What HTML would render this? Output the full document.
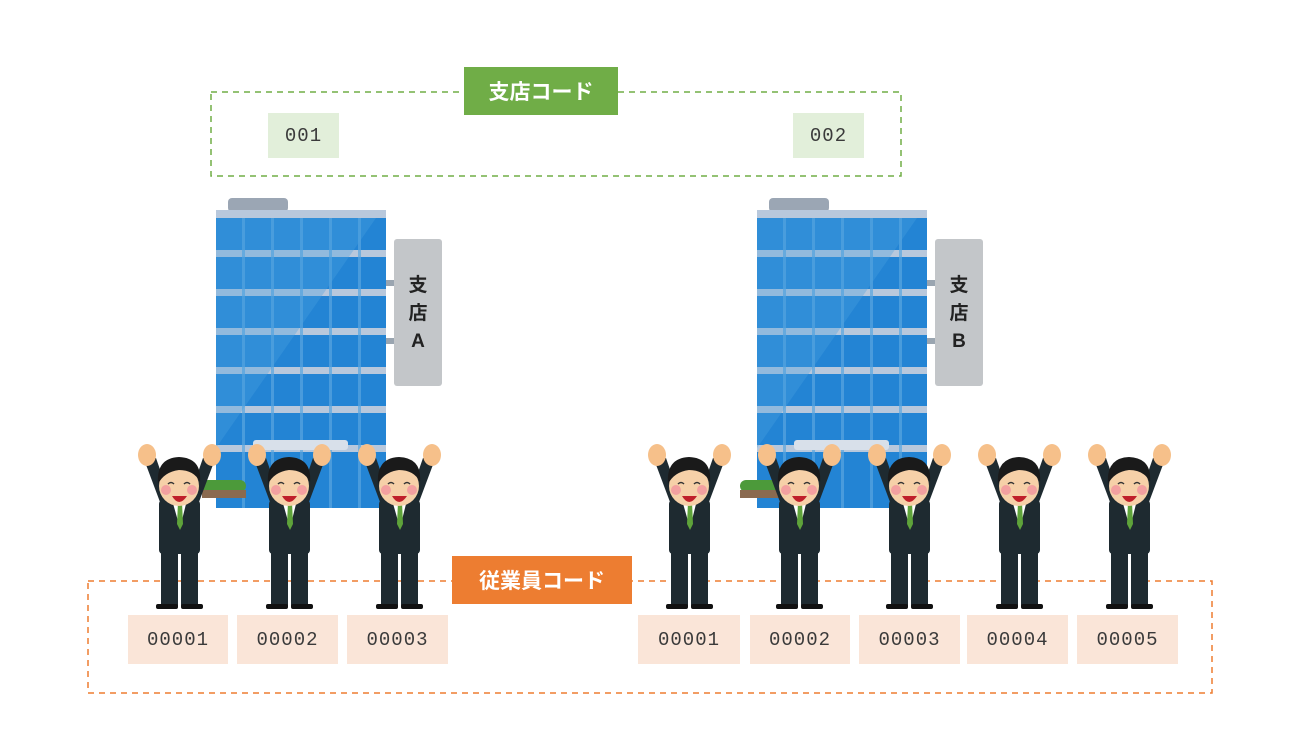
<!DOCTYPE html>
<html><head><meta charset="utf-8"><style>
body{margin:0;width:1300px;height:756px;background:#fff;position:relative;overflow:hidden;font-family:"Liberation Sans","Noto Sans CJK JP",sans-serif}
.a{position:absolute}
.code{position:absolute;font-family:"Liberation Mono",monospace;font-size:19px;color:#3a3a3a;display:flex;align-items:center;justify-content:center;letter-spacing:1px}
.e{background:#fae5d8;top:615px;height:49px}
.g{background:#e2efda;top:113px;height:45px;width:71px}
.lab{position:absolute;color:#fff;font-weight:bold;font-size:21px;display:flex;align-items:center;justify-content:center}
</style></head><body>
<svg class="a" style="left:0;top:0" width="1300" height="756">
<defs>
<symbol id="bld" viewBox="0 0 240 310">
<rect x="12" y="0" width="60" height="14" rx="4" fill="#9ba6b4"/>
<rect x="0" y="12" width="170" height="298" fill="#2384d4"/>
<g fill="#b8c8dc">
<rect x="0" y="12" width="170" height="8"/><rect x="0" y="52" width="170" height="7"/><rect x="0" y="91" width="170" height="7"/><rect x="0" y="130" width="170" height="7"/><rect x="0" y="169" width="170" height="7"/><rect x="0" y="208" width="170" height="7"/><rect x="0" y="247" width="170" height="7"/>
</g>
<g fill="#5aa6e0" opacity="0.7">
<rect x="26" y="20" width="3" height="290"/><rect x="55" y="20" width="3" height="290"/><rect x="84" y="20" width="3" height="290"/><rect x="113" y="20" width="3" height="290"/><rect x="142" y="20" width="3" height="290"/>
</g>
<polygon points="0,20 160,20 0,250" fill="#4aa0e0" opacity="0.35"/>
<rect x="37" y="242" width="95" height="10" rx="3" fill="#d8e0ea"/>
<rect x="170" y="82" width="10" height="6" fill="#9aa5b0"/><rect x="170" y="140" width="10" height="6" fill="#9aa5b0"/>
<rect x="178" y="41" width="48" height="147" rx="3" fill="#c3c6c9"/>
</symbol>
<symbol id="p" viewBox="0 0 100 175">
<path d="M15 22 L33 70 L44 70 L26 18 Z" fill="#1e2a30"/>
<path d="M84 22 L66 70 L55 70 L73 18 Z" fill="#1e2a30"/>
<ellipse cx="17" cy="15" rx="9" ry="11" fill="#f6c08a"/>
<ellipse cx="82" cy="15" rx="9" ry="11" fill="#f6c08a"/>
<rect x="29" y="60" width="41" height="54" rx="4" fill="#1e2a30"/>
<polygon points="42,60 57,60 50,88" fill="#fff"/>
<polygon points="48,62 52,62 53,84 50,90 47,84" fill="#5ea33a"/>
<rect x="31" y="112" width="17" height="54" fill="#1e2a30"/>
<rect x="51" y="112" width="17" height="54" fill="#1e2a30"/>
<rect x="26" y="164" width="22" height="5" rx="2" fill="#111"/>
<rect x="51" y="164" width="22" height="5" rx="2" fill="#111"/>
<ellipse cx="49" cy="46" rx="20" ry="20" fill="#f6d0a8"/>
<path d="M28 44 Q26 18 49 17 Q72 18 70 42 Q64 30 49 30 Q34 32 28 44Z" fill="#1a1a1a"/>
<circle cx="36" cy="50" r="5" fill="#f3a0a0"/><circle cx="62" cy="50" r="5" fill="#f3a0a0"/>
<path d="M42 56 Q49 68 57 56Z" fill="#c0202a"/>
<path d="M38 44 q3 -3 6 0 M54 44 q3 -3 6 0" stroke="#333" stroke-width="1.5" fill="none"/>
</symbol>
</defs>
<rect x="211" y="92" width="690" height="84" fill="none" stroke="#70ad47" stroke-width="1.5" stroke-dasharray="6,5"/>
<use href="#bld" x="216" y="198" width="240" height="310"/>
<use href="#bld" x="757" y="198" width="240" height="310"/>
<rect x="202" y="480" width="44" height="12" rx="6" fill="#4c9a3a"/><rect x="202" y="490" width="44" height="8" fill="#8a6a50"/>
<rect x="740" y="480" width="44" height="12" rx="6" fill="#4c9a3a"/><rect x="740" y="490" width="44" height="8" fill="#8a6a50"/>
<rect x="88" y="581" width="1124" height="112" fill="none" stroke="#ed7d31" stroke-width="1.5" stroke-dasharray="6,5"/>
<use href="#p" x="130" y="440" width="100" height="175"/>
<use href="#p" x="240" y="440" width="100" height="175"/>
<use href="#p" x="350" y="440" width="100" height="175"/>
<use href="#p" x="640" y="440" width="100" height="175"/>
<use href="#p" x="750" y="440" width="100" height="175"/>
<use href="#p" x="860" y="440" width="100" height="175"/>
<use href="#p" x="970" y="440" width="100" height="175"/>
<use href="#p" x="1080" y="440" width="100" height="175"/>
</svg>
<div class="a" style="left:394px;top:272px;width:48px;text-align:center;font-weight:bold;font-size:19px;line-height:28px;color:#222">支<br>店<br>A</div>
<div class="a" style="left:935px;top:272px;width:48px;text-align:center;font-weight:bold;font-size:19px;line-height:28px;color:#222">支<br>店<br>B</div>
<div class="lab" style="left:464px;top:67px;width:154px;height:48px;background:#70ad47">支店コード</div>
<div class="lab" style="left:452px;top:556px;width:180px;height:48px;background:#ed7d31">従業員コード</div>
<div class="code g" style="left:268px">001</div>
<div class="code g" style="left:793px">002</div>
<div class="code e" style="left:128px;width:100px">00001</div>
<div class="code e" style="left:237px;width:101px">00002</div>
<div class="code e" style="left:347px;width:101px">00003</div>
<div class="code e" style="left:638px;width:102px">00001</div>
<div class="code e" style="left:750px;width:100px">00002</div>
<div class="code e" style="left:859px;width:101px">00003</div>
<div class="code e" style="left:967px;width:101px">00004</div>
<div class="code e" style="left:1077px;width:101px">00005</div>
</body></html>
